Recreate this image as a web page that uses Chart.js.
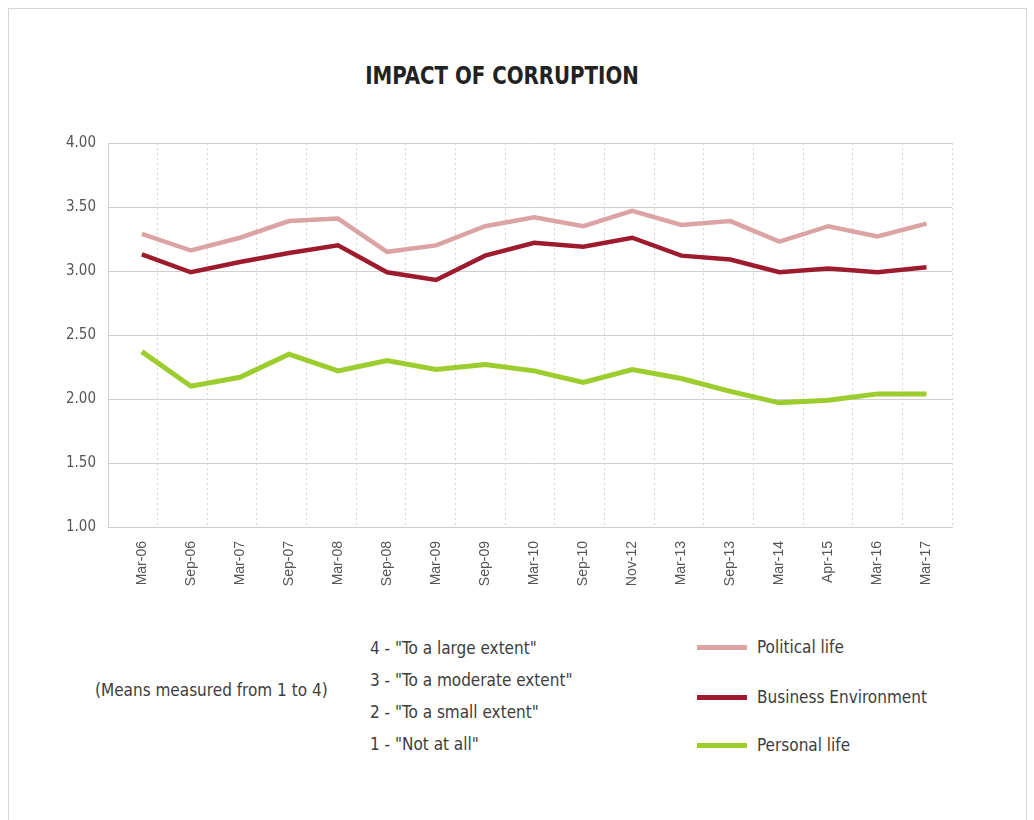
<!DOCTYPE html>
<html>
<head>
<meta charset="utf-8">
<script src="https://cdn.jsdelivr.net/npm/chart.js@4.4.1/dist/chart.umd.min.js"></script>
<style>
  html, body { margin: 0; padding: 0; background: #fff; }
  body { width: 1034px; height: 820px; position: relative; overflow: hidden;
         font-family: 'Liberation Sans Narrow', 'DejaVu Sans Condensed', 'Roboto Condensed', sans-serif; color: #3a3a3a; }
  #frame { position: absolute; left: 8px; top: 8px; width: 1017px; height: 830px; border: 1px solid #d6d6d6; }
  #title { position: absolute; left: 0; top: 61px; width: 1004px; text-align: center;
           font-weight: bold; font-size: 25px; color: #222; transform: scaleX(0.88); transform-origin: 502px 0; }
  #wrap { position: absolute; left: 0; top: 0; width: 1034px; height: 600px; }
  .t { position: absolute; font-size: 17px; color: #3d3d3d; white-space: nowrap; line-height: 20px; }
  .lg { position: absolute; left: 697px; width: 50px; height: 5px; }
</style>
</head>
<body>
<div id="frame"></div>
<div id="title">IMPACT OF CORRUPTION</div>
<div id="wrap"><canvas id="c"></canvas></div>

<div class="t" style="left:95px; top:680px;">(Means measured from 1 to 4)</div>
<div class="t" style="left:370px; top:638px;">4 - "To a large extent"</div>
<div class="t" style="left:370px; top:670px;">3 - "To a moderate extent"</div>
<div class="t" style="left:370px; top:702px;">2 - "To a small extent"</div>
<div class="t" style="left:370px; top:734px;">1 - "Not at all"</div>

<div class="lg" style="top:645px; background:#dba3a3;"></div>
<div class="t" style="left:757px; top:637px;">Political life</div>
<div class="lg" style="top:695px; background:#9e1b2e;"></div>
<div class="t" style="left:757px; top:687px;">Business Environment</div>
<div class="lg" style="top:743px; background:#9ccc2e;"></div>
<div class="t" style="left:757px; top:735px;">Personal life</div>

<script>
const categories = ["Mar-06","Sep-06","Mar-07","Sep-07","Mar-08","Sep-08","Mar-09","Sep-09","Mar-10","Sep-10","Nov-12","Mar-13","Sep-13","Mar-14","Apr-15","Mar-16","Mar-17"];
const politicalLife = [3.29, 3.16, 3.26, 3.39, 3.41, 3.15, 3.20, 3.35, 3.42, 3.35, 3.47, 3.36, 3.39, 3.23, 3.35, 3.27, 3.37];
const businessEnv   = [3.13, 2.99, 3.07, 3.14, 3.20, 2.99, 2.93, 3.12, 3.22, 3.19, 3.26, 3.12, 3.09, 2.99, 3.02, 2.99, 3.03];
const personalLife  = [2.37, 2.10, 2.17, 2.35, 2.22, 2.30, 2.23, 2.27, 2.22, 2.13, 2.23, 2.16, 2.06, 1.97, 1.99, 2.04, 2.04];
const yTicks = [1.00, 1.50, 2.00, 2.50, 3.00, 3.50, 4.00];

const X_MIN = -0.69, X_MAX = 16.52;
const toPts = arr => arr.map((v, i) => ({ x: i, y: v }));
const COND = "'Liberation Sans Narrow', 'DejaVu Sans Condensed', 'Roboto Condensed', sans-serif";

new Chart(document.getElementById('c'), {
  type: 'line',
  data: {
    datasets: [
      { label: 'Political life', data: toPts(politicalLife), borderColor: '#dba3a3', borderWidth: 4.5, pointRadius: 0, tension: 0, xAxisID: 'x' },
      { label: 'Business Environment', data: toPts(businessEnv), borderColor: '#9e1b2e', borderWidth: 4.5, pointRadius: 0, tension: 0, xAxisID: 'x' },
      { label: 'Personal life', data: toPts(personalLife), borderColor: '#9ccc2e', borderWidth: 5, pointRadius: 0, tension: 0, xAxisID: 'x' }
    ]
  },
  options: {
    responsive: true,
    maintainAspectRatio: false,
    animation: false,
    layout: { padding: { left: 60, right: 82, top: 143, bottom: 0 } },
    plugins: { legend: { display: false }, tooltip: { enabled: false }, title: { display: false } },
    scales: {
      x: {
        type: 'linear', position: 'bottom', min: X_MIN, max: X_MAX,
        afterBuildTicks: axis => { axis.ticks = categories.map((_, i) => ({ value: i })); },
        afterFit: axis => { axis.height = 73; },
        ticks: {
          autoSkip: false, minRotation: 90, maxRotation: 90, padding: 6,
          color: '#555', font: { family: "'Liberation Sans', Arial, sans-serif", size: 14 },
          callback: v => categories[v]
        },
        grid: { display: false },
        border: { display: true, color: '#cfcfcf', width: 1 }
      },
      x2: {
        type: 'linear', position: 'bottom', min: X_MIN, max: X_MAX,
        afterBuildTicks: axis => {
          const t = [];
          for (let k = 1; k <= 17; k++) t.push({ value: X_MIN + (X_MAX - X_MIN) * k / 17 });
          axis.ticks = t;
        },
        afterFit: axis => { axis.height = 0; },
        ticks: { display: false },
        grid: { display: true, drawTicks: false, color: '#d4d4d4', lineWidth: 1, tickBorderDash: [2, 3] },
        border: { display: false, dash: [2, 3] }
      },
      y: {
        type: 'linear', min: 1, max: 4,
        afterBuildTicks: axis => { axis.ticks = yTicks.map(v => ({ value: v })); },
        afterFit: axis => { axis.width = 48; },
        ticks: {
          padding: 12, color: '#555', font: { family: COND, size: 15 },
          callback: v => Number(v).toFixed(2)
        },
        grid: { drawTicks: false, color: '#cfcfcf', lineWidth: 1 },
        border: { display: true, color: '#cfcfcf', width: 1, dash: [] }
      }
    }
  }
});
</script>
</body>
</html>
